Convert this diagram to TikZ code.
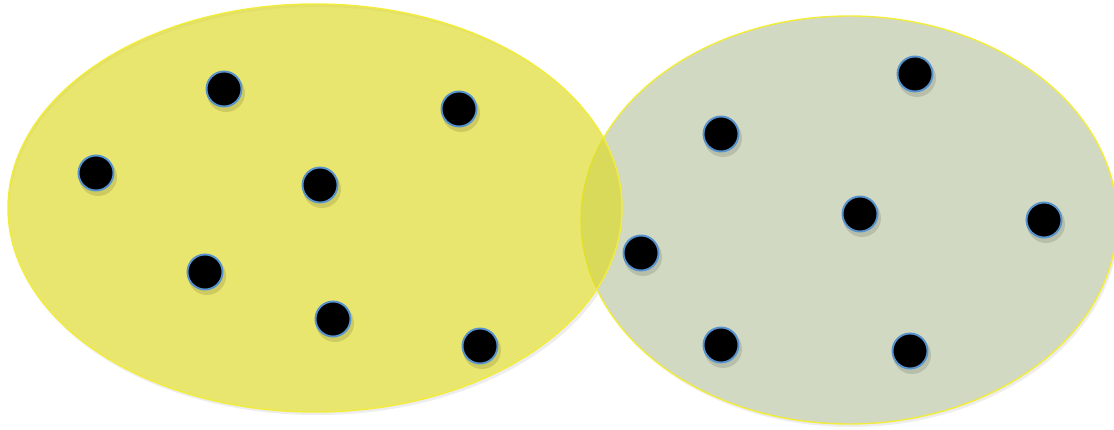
\documentclass[tikz,border=0pt]{standalone}
\usetikzlibrary{shapes.geometric}
\definecolor{leftfill}{RGB}{221,218,39}
\definecolor{rightfill}{RGB}{209,217,194}
\definecolor{rimyellow}{RGB}{242,236,60}
\definecolor{dotrim}{RGB}{86,146,205}
\tikzset{
  dot/.style={circle, fill=black, draw=dotrim, line width=1.1pt, minimum size=0.70cm, inner sep=0pt},
  dotshadow/.style={circle, fill=black, opacity=0.12, minimum size=0.76cm, inner sep=0pt},
  blob/.style={ellipse, inner sep=0pt, line width=0.8pt, draw=rimyellow},
}
\begin{document}
\begin{tikzpicture}[x=0.02cm,y=-0.02cm]
\useasboundingbox (0,0) rectangle (1114,429);
% soft shadows of ellipses (outside only)
\fill[black, opacity=0.07, even odd rule] (317,211) ellipse [x radius=308, y radius=204]
   (315,208) ellipse [x radius=307, y radius=204];
\fill[black, opacity=0.07, even odd rule] (851,223) ellipse [x radius=268, y radius=204]
   (849,220) ellipse [x radius=268, y radius=204];
% ellipses
\node[blob, fill=rightfill, minimum width=536*0.02cm, minimum height=408*0.02cm] (right) at (849,220) {};
\node[blob, fill=leftfill, fill opacity=0.67, minimum width=614*0.02cm, minimum height=408*0.02cm] (left) at (315,208) {};
% dots
\foreach \n/\x/\y in {a/224/89, b/459/109, c/96/173, d/320/185, e/205/272, f/333/319, g/480/346,
                      h/915/74, i/721/134, j/860/214, k/1044/220, l/641/253, m/721/345, n/910/351}{
  \node[dotshadow] (s\n) at (\x+2,\y+4) {};
  \node[dot] (\n) at (\x,\y) {};
}
\end{tikzpicture}
\end{document}
